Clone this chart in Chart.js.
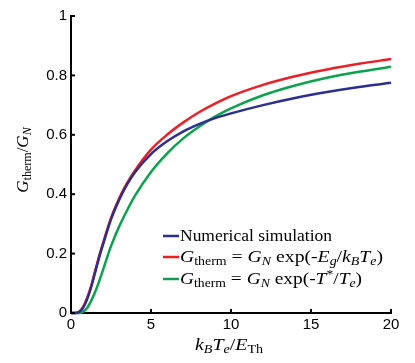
<!DOCTYPE html>
<html>
<head>
<meta charset="utf-8">
<script src="https://cdn.jsdelivr.net/npm/chart.js@4.4.1/dist/chart.umd.min.js"></script>
<style>
  html, body { margin: 0; padding: 0; background: #fff; }
  #wrap { width: 415px; height: 363px; }
</style>
</head>
<body>
<div id="wrap"><canvas id="chart" width="415" height="363"></canvas></div>
<script>
// k_B T_e / E_Th
const kT = [0, 0.25, 0.5, 0.75, 1, 1.25, 1.5, 1.75, 2, 2.5, 3, 3.5, 4, 5, 6, 7, 8, 9, 10, 12, 14, 16, 18, 20];
// G_therm / G_N
const simulation = [0, 0, 0.003, 0.017, 0.045, 0.085, 0.135, 0.185, 0.23, 0.315, 0.38, 0.432, 0.474, 0.535, 0.578, 0.611, 0.636, 0.656, 0.672, 0.7, 0.724, 0.744, 0.761, 0.775];
const gapFit = [0, 0, 0.004, 0.02, 0.05, 0.09, 0.14, 0.19, 0.235, 0.32, 0.385, 0.437, 0.48, 0.55, 0.6, 0.641, 0.676, 0.705, 0.73, 0.768, 0.797, 0.82, 0.839, 0.855];
const tStarFit = [0, 0, 0, 0.004, 0.016, 0.04, 0.07, 0.105, 0.145, 0.225, 0.29, 0.345, 0.395, 0.475, 0.537, 0.587, 0.627, 0.661, 0.689, 0.733, 0.766, 0.792, 0.812, 0.829];

const xTicks = [0, 5, 10, 15, 20];
const yTicks = [0, 0.2, 0.4, 0.6, 0.8, 1];

const BLUE = '#2b2f8f', RED = '#ec1f27', GREEN = '#0ca24c';
const SERIF = '"Liberation Serif", "DejaVu Serif", serif';
const SANS = '"Liberation Sans", Arial, sans-serif';

const pts = (ys) => kT.map((x, i) => ({x: x, y: ys[i]}));

// rich text: [text, kind] kind: r roman, i italic, sr/si subscript, sup superscript
function fontOf(kind) {
    if (kind === 'i') return 'italic 17px ' + SERIF;
    if (kind === 'r') return '17px ' + SERIF;
    if (kind === 'si') return 'italic 12px ' + SERIF;
    return '12px ' + SERIF;
}
function richWidth(ctx, parts) {
    let w = 0;
    parts.forEach(p => { ctx.font = fontOf(p[1]); w += ctx.measureText(p[0]).width; });
    return w;
}
// draws parts starting at x (or centred on x), stretched to width if given
function drawRich(ctx, parts, x, y, align, width) {
    const natural = richWidth(ctx, parts);
    const k = width ? width / natural : 1;
    ctx.save();
    ctx.translate(align === 'center' ? x - natural * k / 2 : x, y);
    ctx.scale(k, 1);
    ctx.textAlign = 'left';
    ctx.textBaseline = 'alphabetic';
    let cx = 0;
    parts.forEach(p => {
        ctx.font = fontOf(p[1]);
        let dy = (p[1] === 'sr' || p[1] === 'si') ? 3 : (p[1] === 'sup' ? -6 : 0);
        ctx.fillText(p[0], cx, dy);
        cx += ctx.measureText(p[0]).width;
    });
    ctx.restore();
}

const xTitle = [['k', 'i'], ['B', 'si'], ['T', 'i'], ['e', 'si'], ['/', 'r'], ['E', 'i'], ['Th', 'sr']];
const yTitle = [['G', 'i'], ['therm', 'sr'], ['/', 'r'], ['G', 'i'], ['N', 'si']];
const legendRows = [
    {color: BLUE, width: 152, parts: [['Numerical simulation', 'r']]},
    {color: RED, width: 203, parts: [['G', 'i'], ['therm', 'sr'], [' = ', 'r'], ['G', 'i'], ['N', 'si'], [' exp(-', 'r'], ['E', 'i'], ['g', 'si'], ['/', 'r'], ['k', 'i'], ['B', 'si'], ['T', 'i'], ['e', 'si'], [')', 'r']]},
    {color: GREEN, width: 182, parts: [['G', 'i'], ['therm', 'sr'], [' = ', 'r'], ['G', 'i'], ['N', 'si'], [' exp(-', 'r'], ['T', 'i'], ['*', 'sup'], ['/', 'r'], ['T', 'i'], ['e', 'si'], [')', 'r']]}
];

const decor = {
    id: 'decor',
    afterDraw: (chart) => {
        const ctx = chart.ctx, sx = chart.scales.x, sy = chart.scales.y;
        const area = chart.chartArea;
        ctx.save();
        ctx.strokeStyle = '#000';
        ctx.lineWidth = 2;
        // inward tick marks
        xTicks.forEach(v => {
            const px = sx.getPixelForValue(v);
            ctx.beginPath(); ctx.moveTo(px, area.bottom); ctx.lineTo(px, area.bottom - 4); ctx.stroke();
        });
        yTicks.forEach(v => {
            const py = sy.getPixelForValue(v);
            ctx.beginPath(); ctx.moveTo(area.left, py); ctx.lineTo(area.left + 4, py); ctx.stroke();
        });
        ctx.fillStyle = '#000';
        drawRich(ctx, xTitle, 229, 350, 'center', 68);
        ctx.save();
        ctx.translate(28, 160);
        ctx.rotate(-Math.PI / 2);
        drawRich(ctx, yTitle, 0, 0, 'center');
        ctx.restore();
        // legend
        const rowY = [236, 257, 279];
        legendRows.forEach((row, i) => {
            ctx.strokeStyle = row.color;
            ctx.lineWidth = 2.5;
            ctx.beginPath(); ctx.moveTo(163, rowY[i]); ctx.lineTo(179, rowY[i]); ctx.stroke();
            ctx.fillStyle = '#000';
            drawRich(ctx, row.parts, 180, rowY[i] + 5, 'left', row.width);
        });
        ctx.restore();
    }
};

const line = (label, ys, color) => ({
    label: label, data: pts(ys), borderColor: color, borderWidth: 2.5,
    pointRadius: 0, fill: false, cubicInterpolationMode: 'monotone', clip: 4
});

new Chart(document.getElementById('chart'), {
    type: 'line',
    data: {
        datasets: [
            line('Numerical simulation', simulation, BLUE),
            line('G_therm = G_N exp(-E_g/k_B T_e)', gapFit, RED),
            line('G_therm = G_N exp(-T*/T_e)', tStarFit, GREEN)
        ]
    },
    plugins: [decor],
    options: {
        responsive: false,
        animation: false,
        layout: {padding: {top: 16, right: 24, left: 0, bottom: 0}},
        plugins: {legend: {display: false}, tooltip: {enabled: false}},
        scales: {
            x: {
                type: 'linear', min: 0, max: 20,
                afterFit: (s) => { s.height = 50; },
                afterBuildTicks: (s) => { s.ticks = xTicks.map(v => ({value: v})); },
                grid: {display: true, drawOnChartArea: false, drawTicks: false},
                border: {display: true, color: '#000', width: 2},
                ticks: {color: '#000', font: {family: SANS, size: 15}, padding: 3, maxRotation: 0}
            },
            y: {
                type: 'linear', min: 0, max: 1,
                afterFit: (s) => { s.width = 71; },
                afterBuildTicks: (s) => { s.ticks = yTicks.map(v => ({value: v})); },
                grid: {display: true, drawOnChartArea: false, drawTicks: false},
                border: {display: true, color: '#000', width: 2},
                ticks: {color: '#000', font: {family: SANS, size: 15}, padding: 4,
                    callback: (v) => String(+v.toFixed(1))}
            }
        }
    }
});
</script>
</body>
</html>
